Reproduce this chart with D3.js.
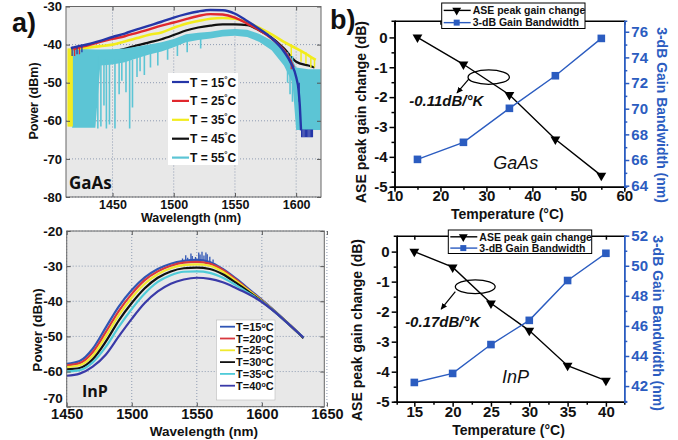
<!DOCTYPE html>
<html>
<head>
<meta charset="utf-8">
<title>ASE spectra vs temperature</title>
<script src="https://cdn.jsdelivr.net/npm/d3@7"></script>
<style>
  body { margin: 0; background: #fff; }
  svg { font-family: "Liberation Sans", Arial, sans-serif; font-weight: bold; }
  .grid { stroke: #8f9cb2; stroke-width: 1; stroke-dasharray: 1 2; }
</style>
</head>
<body>
<svg id="chart"></svg>
<script>
// ---- a) GaAs ASE spectra, [wavelength nm, power dBm] ----
const gaasLabels = ["15", "25", "35", "45", "55"];
const gaasT15 = [[1416,-41],[1420,-40.6],[1430,-39.9],[1440,-39],[1450,-38],[1460,-37.1],[1470,-36],[1480,-35],[1490,-34],[1500,-32.9],[1510,-32],[1520,-31.3],[1530,-30.9],[1540,-31],[1550,-31.9],[1560,-33.8],[1570,-35.9],[1580,-38.3],[1590,-41.8],[1596,-45],[1600,-48.5],[1602,-52],[1603,-56],[1604,-62.5]];
const gaasT25 = [[1418,-41.3],[1420,-41],[1430,-40.2],[1440,-39.3],[1450,-38.5],[1460,-37.8],[1470,-36.9],[1480,-36],[1490,-35],[1500,-34.2],[1510,-33.3],[1520,-32.5],[1530,-32],[1540,-32.1],[1550,-32.9],[1560,-34.5],[1570,-36.2],[1580,-38.4],[1590,-41.5],[1595,-44],[1598,-46]];
const gaasT35 = [[1418,-41],[1420,-41],[1430,-40.8],[1440,-40.4],[1450,-40],[1460,-39.2],[1470,-38.3],[1480,-37.4],[1490,-36.8],[1500,-35.6],[1510,-34.5],[1520,-33.8],[1530,-33.2],[1540,-33],[1550,-33.2],[1560,-34.1],[1570,-35.6],[1580,-37.3],[1590,-39.3],[1600,-41],[1610,-42.8],[1616,-44]];
const gaasT45 = [[1417,-42],[1430,-42],[1440,-42],[1450,-41.8],[1460,-41.1],[1470,-40.2],[1480,-39.4],[1490,-38.6],[1500,-37.5],[1510,-36.3],[1520,-35.5],[1530,-35],[1540,-34.7],[1550,-34.7],[1560,-34.9],[1570,-36.3],[1580,-38.2],[1590,-41],[1600,-44.5],[1610,-45.5],[1615,-46]];
// 55 C is a noisy band: upper and lower edge on one wavelength grid
const gaasT55Wl = [1417,1420,1430,1436,1440,1450,1460,1470,1480,1490,1500,1510,1520,1530,1540,1550,1560,1570,1580,1590,1597,1600,1610,1620];
const gaasT55Top = [-41.5,-41,-41.2,-41.3,-41.3,-41.2,-41,-40.5,-40,-39.4,-38.5,-37.3,-36.9,-36.6,-36.1,-35.9,-36.1,-37.2,-38.9,-41,-44,-46,-46.5,-46.5];
const gaasT55Bottom = [-61.8,-61.8,-61.8,-61.8,-45.5,-45.2,-44.6,-43.6,-42.6,-41.8,-40.7,-39.4,-38.8,-38.4,-37.9,-37.7,-38,-39.3,-41.5,-45.5,-50,-62.4,-62.4,-62.4];
// dips in the measured traces: [wavelength, top, bottom]
const gaasT55Dips = [[1438,-43,-62],[1440.5,-43,-61.5],[1443,-44,-56],[1445,-44,-62],[1447.5,-44,-61],[1452,-44,-62],[1455.4,-44,-53],[1457.6,-44,-49.5],[1461,-44,-52.5],[1464,-44,-62],[1466.3,-44,-56.5],[1470,-43,-48.5],[1472.5,-43,-47],[1476,-42,-48],[1481,-42,-46],[1487,-41,-45.5],[1495,-40,-44],[1503,-39.5,-43],[1511,-38.5,-42],[1522,-38,-41],[1593,-42,-50],[1595,-43,-53],[1597,-43,-55]];
const gaasT35Dips = [[1413.8,-41,-61.5],[1414.6,-41,-61.5],[1415.4,-41,-61.5],[1416.2,-41,-61.5],[1417,-41,-61.5],[1596,-40,-43],[1604,-41.5,-44.5],[1608,-42,-45],[1612,-43,-46],[1615,-43.5,-46]];
const gaasT25Dips = [[1419,-41,-43],[1423,-40.5,-42.5],[1596,-44,-46.5]];
const gaasT15Dips = [[1417,-40.5,-43],[1421,-40.5,-42.5],[1425,-40,-42],[1602.5,-50,-55],[1604.5,-62.3,-64.3],[1605.5,-62.3,-64.3],[1606.5,-62.3,-64.3],[1607.5,-62.3,-64.3],[1608.5,-62.3,-64.3],[1609.5,-62.3,-64.3],[1610.5,-62.3,-64.3],[1611.5,-62.3,-64.3],[1612.5,-62.3,-64.3],[1613.3,-62.3,-64.3]];
const gaasXTicks = [1450, 1500, 1550, 1600];
const gaasYTicks = [-80, -70, -60, -50, -40, -30];

// ---- a) InP ASE spectra ----
const inpLabels = ["15", "20", "25", "30", "35", "40"];
const inpWl = [1450,1460,1470,1480,1490,1500,1510,1520,1530,1540,1550,1560,1570,1580,1590,1600,1610,1620,1632];
const inpT15 = [-57.8,-57.0,-53.5,-47.5,-41.5,-36.8,-33.2,-30.8,-29.3,-28.5,-28.2,-28.8,-30.8,-33.5,-36.5,-39.6,-42.8,-46.2,-50.5];
const inpT20 = [-58.2,-57.6,-54.5,-48.8,-42.8,-37.9,-34.0,-31.5,-29.9,-29.0,-28.8,-29.3,-31.1,-33.8,-36.8,-39.8,-42.9,-46.2,-50.4];
const inpT25 = [-58.7,-58.2,-55.5,-50.0,-44.0,-39.0,-35.0,-32.3,-30.6,-29.7,-29.5,-29.9,-31.6,-34.2,-37.0,-39.9,-42.9,-46.2,-50.4];
const inpT30 = [-59.4,-59.0,-56.5,-51.5,-45.5,-40.5,-36.3,-33.3,-31.5,-30.6,-30.4,-30.8,-32.3,-34.7,-37.3,-40.0,-43.0,-46.3,-50.4];
const inpT35 = [-60.0,-59.6,-57.4,-53.0,-47.3,-42.2,-37.8,-34.5,-32.6,-31.6,-31.5,-31.9,-33.3,-35.4,-37.7,-40.1,-43.0,-46.3,-50.3];
const inpT40 = [-61.2,-60.6,-58.6,-55.2,-50.0,-45.0,-40.5,-37.2,-35.0,-33.8,-33.3,-33.6,-34.6,-36.2,-38.0,-40.2,-43.0,-46.3,-50.3];
// noise spikes on the 15 C trace near the peak: [wavelength, base, top]
const inpT15Spikes = [[1539,-28.5,-27.8],[1541.5,-28.5,-26.9],[1543,-28.5,-27.6],[1545.5,-28.4,-26.4],[1546.5,-28.4,-27.1],[1549,-28.3,-27.4],[1551.5,-28.3,-26.1],[1552.5,-28.3,-26.7],[1554,-28.5,-25.9],[1555.5,-28.5,-27],[1557,-28.6,-26.1],[1558,-28.6,-26.6],[1560,-28.8,-27.3],[1562.5,-29,-28.1]];
const inpXTicks = [1450, 1500, 1550, 1600, 1650];
const inpYTicks = [-70, -60, -50, -40, -30, -20];

// ---- b) peak gain change and 3-dB bandwidth vs temperature ----
const gaasTemp = [15, 25, 35, 45, 55];
const gaasGainChange = [0, -0.9, -1.92, -3.41, -4.63];
const gaasBandwidth = [66.05, 67.38, 70.03, 72.57, 75.48];
const inpTemp = [15, 20, 25, 30, 35, 40];
const inpGainChange = [0, -0.52, -1.72, -2.63, -3.8, -4.3];
const inpBandwidth = [42.24, 42.84, 44.76, 46.37, 49.02, 50.83];
const gainTicks = [0, -1, -2, -3, -4, -5];
const gainMinor = [-0.5, -1.5, -2.5, -3.5, -4.5];
const gaasTempTicks = [10, 20, 30, 40, 50, 60];
const gaasTempMinor = [15, 25, 35, 45, 55];
const gaasBwTicks = [64, 66, 68, 70, 72, 74, 76];
const gaasBwMinor = [65, 67, 69, 71, 73, 75];
const inpTempTicks = [15, 20, 25, 30, 35, 40];
const inpTempMinor = [17.5, 22.5, 27.5, 32.5, 37.5];
const inpBwTicks = [42, 44, 46, 48, 50, 52];
const inpBwMinor = [41, 43, 45, 47, 49, 51];

const gaasColors = ["#2536a8", "#e0282e", "#f2ec1c", "#111111", "#5cc5d5"];
const inpColors = ["#2f55b5", "#d8383e", "#f0e92e", "#111111", "#4fcbd8", "#3a3aa8"];
const bwBlue = "#2b5cc0";

const width = 678;
const height = 440;

const svg = d3.select("#chart")
  .attr("width", width)
  .attr("height", height);

const defs = svg.append("defs");
defs.append("marker")
  .attr("id", "arrow")
  .attr("viewBox", "0 0 10 10")
  .attr("refX", 8).attr("refY", 5)
  .attr("markerWidth", 6).attr("markerHeight", 6)
  .attr("orient", "auto")
  .append("path")
  .attr("d", "M0,1 L9,5 L0,9 z")
  .attr("fill", "#000");

const fmt = d => String(d);

// ---------- spectrum panels ----------
function spectrumPanel(id, box, xDom, yDom, xTicks, yTicks) {
  const x = d3.scaleLinear().domain(xDom).range([box.left, box.right]);
  const y = d3.scaleLinear().domain(yDom).range([box.bottom, box.top]);
  const g = svg.append("g");

  g.append("rect")
    .attr("x", box.left).attr("y", box.top)
    .attr("width", box.right - box.left).attr("height", box.bottom - box.top)
    .attr("fill", "#e8e8e8");

  g.selectAll(null).data(xTicks).enter().append("line")
    .attr("class", "grid")
    .attr("x1", d => x(d)).attr("x2", d => x(d))
    .attr("y1", box.top).attr("y2", box.bottom);
  g.selectAll(null).data(yTicks).enter().append("line")
    .attr("class", "grid")
    .attr("x1", box.left).attr("x2", box.right)
    .attr("y1", d => y(d)).attr("y2", d => y(d));

  defs.append("clipPath").attr("id", id)
    .append("rect")
    .attr("x", box.left).attr("y", box.top)
    .attr("width", box.right - box.left).attr("height", box.bottom - box.top);

  const plot = g.append("g").attr("clip-path", `url(#${id})`);
  return { x, y, g, plot, box };
}

function spectrumAxes(p, xTicks, yTicks, fsX, fsY, padX, padY) {
  const { x, y, g, box } = p;
  const bottom = g.append("g")
    .attr("transform", `translate(0,${box.bottom})`)
    .call(d3.axisBottom(x).tickValues(xTicks).tickSizeInner(-4).tickSizeOuter(0).tickPadding(padX).tickFormat(fmt));
  const left = g.append("g")
    .attr("transform", `translate(${box.left},0)`)
    .call(d3.axisLeft(y).tickValues(yTicks).tickSizeInner(-4).tickSizeOuter(0).tickPadding(padY).tickFormat(fmt));
  const top = g.append("g")
    .attr("transform", `translate(0,${box.top})`)
    .call(d3.axisTop(x).tickValues(xTicks).tickSizeInner(-4).tickSizeOuter(0).tickFormat(""));
  const right = g.append("g")
    .attr("transform", `translate(${box.right},0)`)
    .call(d3.axisRight(y).tickValues(yTicks).tickSizeInner(-4).tickSizeOuter(0).tickFormat(""));

  [bottom, left, top, right].forEach(a => {
    a.select(".domain").remove();
    a.selectAll("line").attr("stroke", "#555");
    a.selectAll("text").attr("fill", "#111").style("font-family", null);
  });
  bottom.selectAll("text").attr("font-size", fsX);
  left.selectAll("text").attr("font-size", fsY);

  g.append("rect")
    .attr("x", box.left).attr("y", box.top)
    .attr("width", box.right - box.left).attr("height", box.bottom - box.top)
    .attr("fill", "none").attr("stroke", "#666").attr("stroke-width", 1);
  return left;
}

function drawDips(p, dips, color, w) {
  p.plot.selectAll(null).data(dips).enter().append("line")
    .attr("x1", d => p.x(d[0])).attr("x2", d => p.x(d[0]))
    .attr("y1", d => p.y(d[1])).attr("y2", d => p.y(d[2]))
    .attr("stroke", color).attr("stroke-width", w);
}

// a) top: GaAs
const pa = spectrumPanel("clipGaas", { left: 66, right: 321, top: 6.5, bottom: 197 },
  [1412, 1620.3], [-80, -30], gaasXTicks, gaasYTicks);

const lineA = d3.line()
  .x(d => pa.x(d[0]))
  .y(d => pa.y(d[1]))
  .curve(d3.curveMonotoneX);

pa.plot.append("path").datum(gaasT45).attr("d", lineA)
  .attr("fill", "none").attr("stroke", gaasColors[3]).attr("stroke-width", 2.2);

pa.plot.append("path")
  .datum(gaasT55Wl)
  .attr("d", d3.area()
    .x(d => pa.x(d))
    .y0((d, i) => pa.y(gaasT55Bottom[i]))
    .y1((d, i) => pa.y(gaasT55Top[i])))
  .attr("fill", gaasColors[4]);
drawDips(pa, gaasT55Dips, gaasColors[4], 1.6);

pa.plot.append("path").datum(gaasT35).attr("d", lineA)
  .attr("fill", "none").attr("stroke", gaasColors[2]).attr("stroke-width", 2.6);
drawDips(pa, gaasT35Dips, gaasColors[2], 1.5);
pa.plot.append("path").datum(gaasT25).attr("d", lineA)
  .attr("fill", "none").attr("stroke", gaasColors[1]).attr("stroke-width", 2.4);
drawDips(pa, gaasT25Dips, gaasColors[1], 1.3);
pa.plot.append("path").datum(gaasT15).attr("d", lineA)
  .attr("fill", "none").attr("stroke", gaasColors[0]).attr("stroke-width", 2.4);
drawDips(pa, gaasT15Dips, gaasColors[0], 1.3);

spectrumAxes(pa, gaasXTicks, gaasYTicks, 12.5, 13, 3, 4);

// legend
const legA = pa.g.append("g");
legA.append("rect").attr("x", 168).attr("y", 73).attr("width", 70).attr("height", 92).attr("fill", "#fff");
gaasLabels.forEach((t, i) => {
  const yy = 82 + i * 18.9;
  legA.append("line").attr("x1", 172).attr("x2", 189).attr("y1", yy).attr("y2", yy)
    .attr("stroke", gaasColors[i]).attr("stroke-width", 2.2);
  const tx = legA.append("text").attr("x", 190).attr("y", yy + 4.5).attr("font-size", 12).attr("fill", "#111");
  tx.append("tspan").text("T = " + t);
  tx.append("tspan").attr("font-size", 8).attr("dy", -5).text("°");
  tx.append("tspan").attr("dy", 5).text("C");
});

pa.g.append("text").attr("x", 69).attr("y", 189)
  .style("font-family", "'Open Sans', sans-serif").attr("font-size", 17).attr("fill", "#111")
  .text("GaAs");
pa.g.append("text").attr("x", 191).attr("y", 221.5).attr("text-anchor", "middle")
  .attr("font-size", 12.5).attr("fill", "#111").text("Wavelength (nm)");
pa.g.append("text").attr("transform", "translate(38,101) rotate(-90)").attr("text-anchor", "middle")
  .attr("font-size", 12.5).attr("fill", "#111").text("Power (dBm)");

// a) bottom: InP
const pb = spectrumPanel("clipInp", { left: 66.7, right: 324.3, top: 231, bottom: 406.7 },
  [1450, 1648], [-70, -20], inpXTicks, inpYTicks);

const lineB = d3.line()
  .x((d, i) => pb.x(inpWl[i]))
  .y(d => pb.y(d))
  .curve(d3.curveMonotoneX);

[inpT15, inpT20, inpT25, inpT30, inpT35, inpT40].forEach((s, i) => {
  pb.plot.append("path").datum(s).attr("d", lineB)
    .attr("fill", "none").attr("stroke", inpColors[i]).attr("stroke-width", 2.2);
});
pb.plot.selectAll(null).data(inpT15Spikes).enter().append("line")
  .attr("x1", d => pb.x(d[0])).attr("x2", d => pb.x(d[0]))
  .attr("y1", d => pb.y(d[1])).attr("y2", d => pb.y(d[2]))
  .attr("stroke", inpColors[0]).attr("stroke-width", 1.3);

const inpLeft = spectrumAxes(pb, inpXTicks, inpYTicks, 14.5, 13.5, 2.5, 4);
// the lowest label sits a little higher, as in the original
inpLeft.selectAll("text").filter(d => d === -70).attr("dy", "-0.3em");

const legB = pb.g.append("g");
legB.append("rect").attr("x", 216.5).attr("y", 320).attr("width", 58.5).attr("height", 80)
  .attr("fill", "#fff").attr("stroke", "#bbb").attr("stroke-width", 0.6);
inpLabels.forEach((t, i) => {
  const yy = 326.7 + i * 11.8;
  legB.append("line").attr("x1", 220).attr("x2", 235).attr("y1", yy).attr("y2", yy)
    .attr("stroke", inpColors[i]).attr("stroke-width", 1.8);
  const tx = legB.append("text").attr("x", 236).attr("y", yy + 4).attr("font-size", 11).attr("fill", "#111");
  tx.append("tspan").text("T=" + t);
  tx.append("tspan").attr("font-size", 7).attr("dy", -3).text("o");
  tx.append("tspan").attr("dy", 3).text("C");
});

pb.g.append("text").attr("x", 82).attr("y", 397)
  .style("font-family", "'Open Sans', sans-serif").attr("font-size", 16).attr("fill", "#111")
  .text("InP");
pb.g.append("text").attr("x", 204).attr("y", 435.5).attr("text-anchor", "middle")
  .attr("font-size", 13.5).attr("fill", "#111").text("Wavelength (nm)");
pb.g.append("text").attr("transform", "translate(42,330) rotate(-90)").attr("text-anchor", "middle")
  .attr("font-size", 13.5).attr("fill", "#111").text("Power (dBm)");

// ---------- temperature panels ----------
function tempPanel(c) {
  const { box } = c;
  const x = d3.scaleLinear().domain(c.xDom).range([box.left, box.right]);
  const yL = d3.scaleLinear().domain(c.yLDom).range([box.bottom, box.top]);
  const yR = d3.scaleLinear().domain(c.yRDom).range([box.bottom, box.top]);
  const g = svg.append("g");

  const axes = [];
  axes.push(g.append("g").attr("transform", `translate(0,${box.bottom})`)
    .call(d3.axisBottom(x).tickValues(c.xMinor).tickSize(3).tickFormat("")));
  const xAx = g.append("g").attr("transform", `translate(0,${box.bottom})`)
    .call(d3.axisBottom(x).tickValues(c.xTicks).tickSizeInner(5).tickSizeOuter(0).tickPadding(c.padX).tickFormat(fmt));
  axes.push(xAx);
  axes.push(g.append("g").attr("transform", `translate(0,${box.top})`)
    .call(d3.axisTop(x).tickValues(c.xTicks).tickSizeInner(-4).tickSizeOuter(0).tickFormat("")));
  axes.push(g.append("g").attr("transform", `translate(${box.left},0)`)
    .call(d3.axisLeft(yL).tickValues(gainMinor).tickSize(3).tickFormat("")));
  const lAx = g.append("g").attr("transform", `translate(${box.left},0)`)
    .call(d3.axisLeft(yL).tickValues(gainTicks).tickSizeInner(5).tickSizeOuter(0).tickPadding(2).tickFormat(fmt));
  axes.push(lAx);
  axes.forEach(a => {
    a.selectAll("path,line").attr("stroke", "#000").attr("stroke-width", 1.5);
    a.selectAll("text").attr("font-size", 15).attr("fill", "#111");
  });

  const rMinor = g.append("g").attr("transform", `translate(${box.right},0)`)
    .call(d3.axisRight(yR).tickValues(c.yRMinor).tickSize(3).tickFormat(""));
  const rAx = g.append("g").attr("transform", `translate(${box.right},0)`)
    .call(d3.axisRight(yR).tickValues(c.yRTicks).tickSizeInner(5).tickSizeOuter(0).tickPadding(2).tickFormat(fmt));
  [rMinor, rAx].forEach(a => {
    a.selectAll("path,line").attr("stroke", bwBlue).attr("stroke-width", 1.5);
    a.selectAll("text").attr("font-size", 15).attr("fill", bwBlue);
  });

  // gain change, black triangles
  const gainLine = d3.line().x((d, i) => x(c.temps[i])).y(d => yL(d));
  g.append("path").datum(c.gain).attr("d", gainLine)
    .attr("fill", "none").attr("stroke", "#000").attr("stroke-width", 1.4);
  g.selectAll(null).data(c.gain).enter().append("path")
    .attr("d", d3.symbol().type(d3.symbolTriangle).size(42))
    .attr("transform", (d, i) => `translate(${x(c.temps[i])},${yL(d)}) rotate(180)`)
    .attr("fill", "#000");

  // bandwidth, blue squares
  const bwLine = d3.line().x((d, i) => x(c.temps[i])).y(d => yR(d));
  g.append("path").datum(c.bw).attr("d", bwLine)
    .attr("fill", "none").attr("stroke", bwBlue).attr("stroke-width", 1.4);
  g.selectAll(null).data(c.bw).enter().append("rect")
    .attr("x", (d, i) => x(c.temps[i]) - 3.8).attr("y", d => yR(d) - 3.8)
    .attr("width", 7.6).attr("height", 7.6)
    .attr("fill", bwBlue);

  // annotation: ellipse + arrow + slope
  const a = c.note;
  g.append("ellipse")
    .attr("cx", x(a.cx)).attr("cy", yL(a.cy))
    .attr("rx", x(a.cx + a.rx) - x(a.cx)).attr("ry", yL(a.cy) - yL(a.cy + a.ry))
    .attr("fill", "none").attr("stroke", "#000").attr("stroke-width", 1.3);
  g.append("line")
    .attr("x1", x(a.from[0])).attr("y1", yL(a.from[1]))
    .attr("x2", x(a.to[0])).attr("y2", yL(a.to[1]))
    .attr("stroke", "#000").attr("stroke-width", 1.2).attr("marker-end", "url(#arrow)");
  g.append("text").attr("x", x(a.text[0])).attr("y", yL(a.text[1]))
    .attr("font-size", 15).attr("font-style", "italic").attr("fill", "#111").text(a.label);
  g.append("text").attr("x", x(c.name[0])).attr("y", yL(c.name[1])).attr("text-anchor", "middle")
    .attr("font-size", 18).attr("font-style", "italic").attr("font-weight", "normal").attr("fill", "#111")
    .text(c.name[2]);

  // legend
  const L = c.legend;
  const lg = g.append("g");
  lg.append("rect").attr("x", L.x).attr("y", L.y).attr("width", L.w).attr("height", L.h)
    .attr("fill", "#fff").attr("stroke", "#000").attr("stroke-width", 1);
  const r1 = L.y + L.h * 0.29, r2 = L.y + L.h * 0.77;
  lg.append("line").attr("x1", L.x + 2).attr("x2", L.x + 29).attr("y1", r1).attr("y2", r1)
    .attr("stroke", "#000").attr("stroke-width", 1.4);
  lg.append("path").attr("d", d3.symbol().type(d3.symbolTriangle).size(34))
    .attr("transform", `translate(${L.x + 15},${r1}) rotate(180)`).attr("fill", "#000");
  lg.append("line").attr("x1", L.x + 2).attr("x2", L.x + 29).attr("y1", r2).attr("y2", r2)
    .attr("stroke", bwBlue).attr("stroke-width", 1.4);
  lg.append("rect").attr("x", L.x + 12).attr("y", r2 - 3).attr("width", 6).attr("height", 6).attr("fill", bwBlue);
  lg.append("text").attr("x", L.x + 31).attr("y", r1 + 3.8).attr("font-size", 10.5).attr("fill", "#111")
    .text("ASE peak gain change");
  lg.append("text").attr("x", L.x + 31).attr("y", r2 + 3.8).attr("font-size", 10.5).attr("fill", "#111")
    .text("3-dB Gain Bandwidth");

  // axis titles
  g.append("text").attr("x", (box.left + box.right) / 2 - 2).attr("y", c.xTitleY).attr("text-anchor", "middle")
    .attr("font-size", 14).attr("fill", "#111").text("Temperature (°C)");
  g.append("text").attr("transform", `translate(${c.yLTitle[0]},${c.yLTitle[1]}) rotate(-90)`)
    .attr("text-anchor", "middle").attr("font-size", 14).attr("fill", "#111")
    .text("ASE peak gain change (dB)");
  g.append("text").attr("transform", `translate(${c.yRTitle[0]},${c.yRTitle[1]}) rotate(90)`)
    .attr("text-anchor", "middle").attr("font-size", 14).attr("fill", bwBlue)
    .text("3-dB Gain Bandwidth (nm)");
}

tempPanel({
  box: { left: 394.5, right: 624.3, top: 20.7, bottom: 186.7 },
  xDom: [10, 60], yLDom: [-5, 0.56], yRDom: [63.92, 76.86],
  xTicks: gaasTempTicks, xMinor: gaasTempMinor,
  yRTicks: gaasBwTicks, yRMinor: gaasBwMinor,
  temps: gaasTemp, gain: gaasGainChange, bw: gaasBandwidth,
  padX: -1,
  note: { cx: 30.5, cy: -1.33, rx: 4.5, ry: 0.24, from: [26.2, -1.39], to: [23.6, -1.86], text: [13.2, -2.3], label: "-0.11dB/°K" },
  name: [36.4, -4.41, "GaAs"],
  legend: { x: 441.7, y: 3, w: 143.3, h: 25.5 },
  xTitleY: 218.5, yLTitle: [366, 112], yRTitle: [657, 115]
});

tempPanel({
  box: { left: 396.7, right: 624.3, top: 235.7, bottom: 401.7 },
  xDom: [12.7, 42.4], yLDom: [-5, 0.53], yRDom: [40.96, 52],
  xTicks: inpTempTicks, xMinor: inpTempMinor,
  yRTicks: inpBwTicks, yRMinor: inpBwMinor,
  temps: inpTemp, gain: inpGainChange, bw: inpBandwidth,
  padX: 0,
  note: { cx: 22.95, cy: -1.17, rx: 2.6, ry: 0.23, from: [20.35, -1.33], to: [18.5, -1.92], text: [13.8, -2.5], label: "-0.17dB/°K" },
  name: [28.2, -4.38, "InP"],
  legend: { x: 448.3, y: 230, w: 143.4, h: 23.5 },
  xTitleY: 434.5, yLTitle: [362, 330], yRTitle: [653, 323]
});

// panel letters
svg.append("text").attr("x", 12).attr("y", 32).attr("font-size", 27).attr("fill", "#111").text("a)");
svg.append("text").attr("x", 330).attr("y", 29).attr("font-size", 27).attr("fill", "#111").text("b)");
</script>
</body>
</html>
